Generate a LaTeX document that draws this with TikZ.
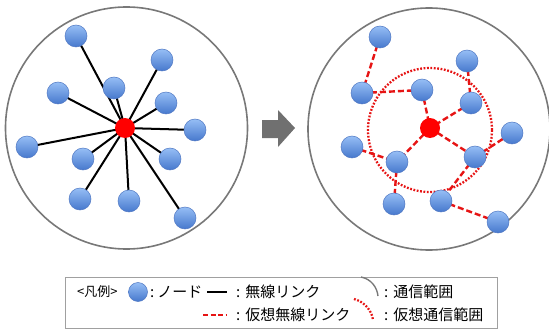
\documentclass[tikz,border=0pt]{standalone}
\usepackage{fontspec}
\newfontfamily\jp{Noto Sans CJK JP}
\definecolor{ringgray}{RGB}{120,120,120}
\definecolor{nodetop}{RGB}{150,190,245}
\definecolor{nodebot}{RGB}{70,120,205}
\definecolor{nodeedge}{RGB}{80,120,195}
\definecolor{arrowgray}{RGB}{112,112,112}
\definecolor{linkred}{RGB}{230,20,20}
\definecolor{boxgray}{RGB}{160,160,160}
\pgfdeclarelayer{bg}
\pgfsetlayers{bg,main}
\tikzset{
  bnode/.style={circle,minimum size=22pt,inner sep=0pt,top color=nodetop,bottom color=nodebot,draw=nodeedge,line width=0.5pt},
  rnode/.style={circle,minimum size=20pt,inner sep=0pt,fill=red,draw=none},
  ring/.style={draw=ringgray,line width=1.6pt},
  wlink/.style={draw=black,line width=2pt},
  vlink/.style={draw=linkred,line width=2.4pt,dash pattern=on 6pt off 3pt},
  vring/.style={draw=linkred,line width=2.3pt,dash pattern=on 1.8pt off 1.6pt},
  lgtext/.style={anchor=west,inner sep=0pt,font=\jp\fontsize{15}{16}\selectfont},
}
\newcommand{\lgcolon}{:\hspace{5pt}}
\begin{document}
\begin{tikzpicture}[x=1pt,y=-1pt]
\useasboundingbox (0,0) rectangle (549,329);
% left panel
\node[ring,circle,minimum size=242pt,inner sep=0pt] (ringL) at (126.5,128) {};
\node[rnode] (C) at (125,128) {};
\foreach \n/\x/\y in {L1/76/36,L2/162/60,L3/58/93,L4/114/88,L5/166/103,L6/195/130,L7/27/147,L8/83/159,L9/170/159,L10/80/199,L11/129/201,L12/185/218}{
  \node[bnode] (\n) at (\x,\y) {};
}
\begin{pgfonlayer}{bg}
\foreach \n in {L1,L2,L3,L4,L5,L6,L7,L8,L9,L10,L11,L12}{
  \draw[wlink] (C.center) -- (\n.center);
}
\end{pgfonlayer}
% arrow
\fill[arrowgray] (262,120) -- (278,120) -- (278,110) -- (295,128) -- (278,147) -- (278,138) -- (262,138) -- cycle;
% right panel
\node[ring,circle,minimum size=242pt,inner sep=0pt] (ringR) at (429,129) {};
\node[vring,circle,minimum size=124pt,inner sep=0pt] (vr) at (430,130) {};
\node[rnode] (R) at (430,128) {};
\foreach \n/\x/\y in {a/380/37,b/467/61,c/362/93,d/422/90,e/471/103,f/512/133,g/352/147,h/397/162,i/475/157,j/394/204,k/441/201,l/498/222}{
  \node[bnode] (\n) at (\x,\y) {};
}
\begin{pgfonlayer}{bg}
\foreach \p/\q in {a/c,c/d,d/R,b/e,e/R,R/h,R/i,g/h,h/j,i/f,i/k,k/l}{
  \draw[vlink] (\p.center) -- (\q.center);
}
\end{pgfonlayer}
% legend
\node[draw=boxgray,line width=0.8pt,minimum width=432pt,minimum height=51pt,inner sep=0pt] (box) at (281,302.5) {};
\node[anchor=west,inner sep=0pt,font=\jp\fontsize{13}{14}\selectfont] (lgh) at (77,292) {<凡例>};
\node[bnode,minimum size=19pt] (lgn) at (138,292) {};
\node[lgtext] (lt1) at (150,292) {:\hspace{3pt}ノード};
\coordinate (lw1) at (207,292);
\coordinate (lw2) at (227,292);
\draw[wlink] (lw1) -- (lw2);
\node[lgtext] (lt2) at (236,292) {\lgcolon 無線リンク};
\node[lgtext] (lt3) at (384,292) {\lgcolon 通信範囲};
\coordinate (lv1) at (203,315);
\coordinate (lv2) at (226,315);
\draw[vlink,dash pattern=on 5pt off 2.5pt] (lv1) -- (lv2);
\node[lgtext] (lt4) at (236,315) {\lgcolon 仮想無線リンク};
\node[lgtext] (lt5) at (384,315) {\lgcolon 仮想通信範囲};
\coordinate (ga1) at (361,277);
\coordinate (ga2) at (378,296);
\draw[ring,line width=1.4pt] (ga1) .. controls (371,279) and (377,287) .. (ga2);
\coordinate (ra1) at (354,299);
\coordinate (ra2) at (373,320);
\draw[vring] (ra1) .. controls (365,302) and (372,311) .. (ra2);
\end{tikzpicture}
\end{document}
